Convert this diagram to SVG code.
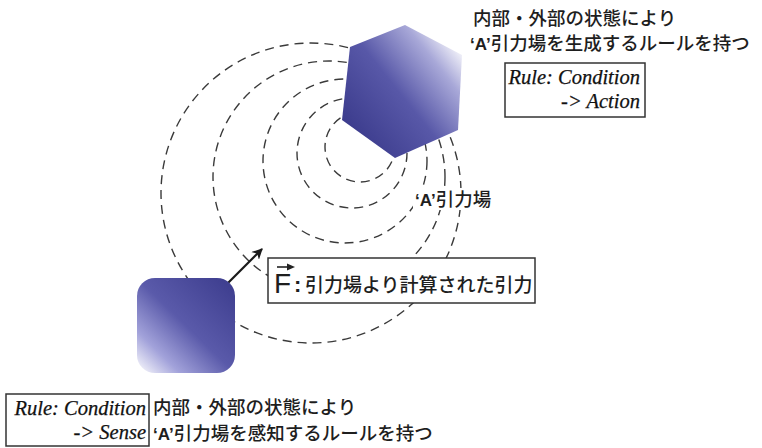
<svg xmlns="http://www.w3.org/2000/svg" width="762" height="448" viewBox="0 0 762 448">
<defs>
<linearGradient id="gHex" x1="0.1" y1="0.85" x2="0.95" y2="0.1">
<stop offset="0" stop-color="#3b3b8c"/>
<stop offset="0.45" stop-color="#5858a8"/>
<stop offset="0.78" stop-color="#a8a8d8"/>
<stop offset="1" stop-color="#ffffff"/>
</linearGradient>
<linearGradient id="gSq" x1="0" y1="1" x2="1" y2="0">
<stop offset="0" stop-color="#ffffff"/>
<stop offset="0.22" stop-color="#a2a2da"/>
<stop offset="0.5" stop-color="#5a5aaa"/>
<stop offset="1" stop-color="#3b3b8c"/>
</linearGradient>
<marker id="ah" viewBox="0 0 10 10" refX="9" refY="5" markerWidth="5" markerHeight="5" orient="auto" markerUnits="strokeWidth">
<path d="M0,0 L10,5 L0,10 L3,5 z" fill="#1a1a1a"/>
</marker>
</defs>
<style>
.field{fill:none;stroke:#3a3a3a;stroke-width:1.4;stroke-dasharray:9 6}
.jp{font-family:"Noto Sans CJK JP","Noto Sans CJK SC",sans-serif;font-size:18.5px;fill:#1e1e1e;font-weight:500}
.q{font-family:"Liberation Sans",sans-serif;font-weight:bold;font-size:17px;fill:#1e1e1e}
.rule{font-family:"Liberation Serif",serif;font-style:italic;font-size:20.5px;fill:#111;stroke:#111;stroke-width:0.25}
.box{fill:#fff;stroke:#333;stroke-width:1.5}
</style>
<rect width="762" height="448" fill="#fff"/>
<g id="connectors">
<circle class="field" cx="360" cy="147" r="35"/>
<circle class="field" cx="352" cy="153" r="55"/>
<circle class="field" cx="345" cy="161" r="82"/>
<circle class="field" cx="329" cy="177" r="116"/>
<circle class="field" cx="311" cy="193" r="150"/>
<line x1="227" y1="284" x2="262" y2="249" stroke="#1a1a1a" stroke-width="2.2" marker-end="url(#ah)"/>
</g>
<g id="field-label">
<rect x="413" y="188" width="82" height="22" fill="#fff"/>
<text x="415" y="206" class="jp"><tspan class="q">‘A’</tspan>引力場</text>
</g>
<g id="emitter">
<polygon points="405,25 462,55 458,130 395,158 342,120 350,47" fill="url(#gHex)"/>
</g>
<g id="emitter-rule">
<text x="473" y="25" class="jp">内部・外部の状態により</text>
<text x="470" y="50" class="jp"><tspan class="q">‘A’</tspan>引力場を生成するルールを持つ</text>
<rect class="box" x="505" y="63" width="140" height="54"/>
<text x="640" y="84" class="rule" text-anchor="end">Rule: Condition</text>
<text x="640" y="108" class="rule" text-anchor="end">-&gt; Action</text>
</g>
<g id="sensor">
<rect x="137" y="278" width="98" height="95" rx="18" ry="18" fill="url(#gSq)"/>
</g>
<g id="force-label">
<rect class="box" x="268" y="258" width="267" height="45"/>
<text x="274" y="293" style="font-family:'Liberation Sans',sans-serif;font-size:28px;fill:#1e1e1e">F</text>
<path d="M277,267 H291" stroke="#222" stroke-width="1.6"/>
<path d="M295,267 L287,263.5 L287,270.5 z" fill="#222"/>
<text x="294" y="292" style="font-family:'Liberation Sans',sans-serif;font-weight:bold;font-size:22px;fill:#1e1e1e">:</text>
<text x="305" y="292" class="jp" style="font-size:19px">引力場より計算された引力</text>
</g>
<g id="sensor-rule">
<rect class="box" x="6" y="394" width="143" height="52"/>
<text x="146" y="415" class="rule" text-anchor="end">Rule: Condition</text>
<text x="146" y="439" class="rule" text-anchor="end">-&gt; Sense</text>
<text x="153" y="414" class="jp">内部・外部の状態により</text>
<text x="153" y="440" class="jp"><tspan class="q">‘A’</tspan>引力場を感知するルールを持つ</text>
</g>
</svg>
